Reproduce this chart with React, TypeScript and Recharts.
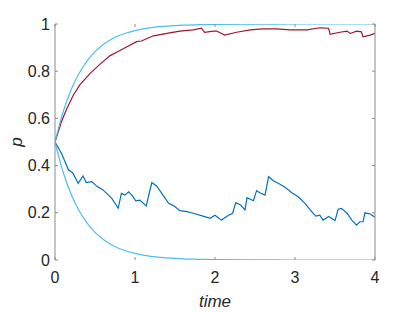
import React from 'react';
import { LineChart, Line, XAxis, YAxis } from 'recharts';

// time samples and probabilities
const redT = [0, 0.08, 0.15, 0.23, 0.31, 0.44, 0.56, 0.69, 0.77, 0.9, 1.02, 1.08, 1.23, 1.4, 1.56, 1.73, 1.83, 1.87, 1.98, 2.02, 2.12, 2.27, 2.44, 2.6, 2.77, 2.94, 3.15, 3.31, 3.42, 3.44, 3.56, 3.65, 3.69, 3.77, 3.83, 3.85, 3.94, 4.0];
const redP = [0.5, 0.586, 0.643, 0.699, 0.742, 0.791, 0.829, 0.866, 0.88, 0.904, 0.925, 0.928, 0.95, 0.96, 0.97, 0.975, 0.982, 0.965, 0.97, 0.97, 0.953, 0.965, 0.975, 0.979, 0.979, 0.975, 0.975, 0.984, 0.982, 0.956, 0.965, 0.97, 0.96, 0.97, 0.967, 0.946, 0.953, 0.96];

const blueT = [0, 0.08, 0.17, 0.22, 0.29, 0.35, 0.39, 0.46, 0.52, 0.6, 0.71, 0.79, 0.83, 0.875, 0.92, 0.96, 1.01, 1.06, 1.14, 1.21, 1.27, 1.35, 1.42, 1.49, 1.56, 1.65, 1.73, 1.85, 1.94, 2.0, 2.08, 2.17, 2.22, 2.26, 2.32, 2.375, 2.4, 2.48, 2.52, 2.56, 2.625, 2.67, 2.73, 2.79, 2.875, 2.96, 3.04, 3.125, 3.19, 3.26, 3.31, 3.35, 3.42, 3.5, 3.54, 3.58, 3.65, 3.71, 3.77, 3.81, 3.85, 3.875, 3.94, 4.0];
const blueP = [0.5, 0.452, 0.381, 0.37, 0.325, 0.356, 0.328, 0.332, 0.313, 0.297, 0.261, 0.219, 0.282, 0.275, 0.289, 0.275, 0.251, 0.254, 0.229, 0.328, 0.314, 0.275, 0.24, 0.229, 0.209, 0.205, 0.198, 0.186, 0.177, 0.19, 0.169, 0.19, 0.198, 0.243, 0.233, 0.212, 0.264, 0.251, 0.294, 0.285, 0.275, 0.353, 0.336, 0.325, 0.308, 0.285, 0.268, 0.24, 0.212, 0.186, 0.19, 0.169, 0.184, 0.167, 0.215, 0.219, 0.198, 0.169, 0.148, 0.162, 0.162, 0.2, 0.195, 0.181];

const cyanT = [0, 0.1, 0.2, 0.3, 0.4, 0.5, 0.6, 0.7, 0.8, 0.9, 1.0, 1.2, 1.4, 1.6, 1.8, 2.0, 2.5, 3.0, 3.5, 4.0];
const cyanHigh = [0.5, 0.626, 0.72, 0.79, 0.843, 0.883, 0.912, 0.934, 0.951, 0.963, 0.972, 0.985, 0.991, 0.995, 0.997, 0.9985, 0.9996, 1, 1, 1];
const cyanLow = [0.5, 0.374, 0.28, 0.21, 0.157, 0.117, 0.088, 0.066, 0.049, 0.037, 0.028, 0.015, 0.009, 0.005, 0.003, 0.0015, 0.0004, 0, 0, 0];

const xTicks = [0, 1, 2, 3, 4];
const yTicks = [0, 0.2, 0.4, 0.6, 0.8, 1];

const toPoints = (ts: number[], ps: number[]) => ts.map((t, i) => ({ t, p: ps[i] }));

const font = '"Liberation Sans", Arial, Helvetica, sans-serif';
const axisGray = '#8c8c8c';
const textColor = '#262626';

const NoTick = () => <g />;

const YLabel = ({ viewBox }: any) => {
  const x = viewBox.x + 16;
  const y = viewBox.y + viewBox.height / 2;
  return (
    <text x={x} y={y} transform={`rotate(-90 ${x} ${y})`} textAnchor="middle" dominantBaseline="central"
      fontSize={17} fontStyle="italic" fill={textColor} fontFamily={font}>p</text>
  );
};

export default function App() {
  return (
    <div style={{ position: 'absolute', left: 0, top: 0, width: 415, height: 312, background: '#fff' }}>
      <LineChart width={415} height={312} margin={{ top: 0, right: 0, bottom: 0, left: 0 }} style={{ fontFamily: font }}>
        <XAxis xAxisId="b" dataKey="t" type="number" domain={[0, 4]} ticks={xTicks} allowDataOverflow
          height={52} axisLine={false} tickSize={-3} tickMargin={15}
          tickLine={{ stroke: axisGray }} tick={{ fill: textColor, fontSize: 16 }}
          label={{ value: 'time', position: 'insideBottom', offset: 5, fontSize: 17, fontStyle: 'italic', fill: textColor }} />
        <XAxis xAxisId="top" orientation="top" dataKey="t" type="number" domain={[0, 4]} ticks={xTicks} allowDataOverflow
          height={24} axisLine={false} tickSize={-3} tickLine={{ stroke: axisGray }} tick={NoTick} />
        <YAxis yAxisId="l" type="number" domain={[0, 1]} ticks={yTicks} allowDataOverflow width={55}
          axisLine={{ stroke: axisGray }} tickSize={-3} tickMargin={8}
          tickLine={{ stroke: axisGray }} tick={{ fill: textColor, fontSize: 16 }}
          label={<YLabel />} />
        <YAxis yAxisId="r" orientation="right" type="number" domain={[0, 1]} ticks={yTicks} allowDataOverflow width={40}
          axisLine={{ stroke: axisGray }} tickSize={-3} tickLine={{ stroke: axisGray }} tick={NoTick} />
        <Line xAxisId="b" yAxisId="l" data={toPoints(redT, redP)} dataKey="p" type="linear" stroke="#A2142F" strokeWidth={1.2} dot={false} isAnimationActive={false} />
        <Line xAxisId="b" yAxisId="l" data={toPoints(blueT, blueP)} dataKey="p" type="linear" stroke="#0072BD" strokeWidth={1.2} dot={false} isAnimationActive={false} />
        <Line xAxisId="top" yAxisId="r" data={toPoints(cyanT, cyanHigh)} dataKey="p" type="monotone" stroke="#4DBEEE" strokeWidth={1.2} dot={false} isAnimationActive={false} />
        <Line xAxisId="top" yAxisId="r" data={toPoints(cyanT, cyanLow)} dataKey="p" type="monotone" stroke="#4DBEEE" strokeWidth={1.2} dot={false} isAnimationActive={false} />
      </LineChart>
    </div>
  );
}
